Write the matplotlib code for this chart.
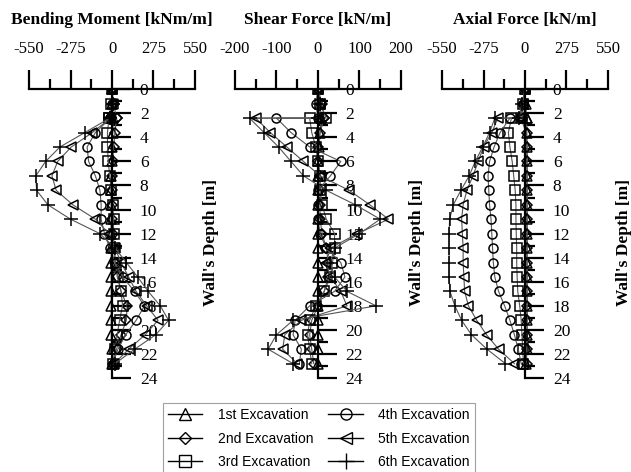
import matplotlib.pyplot as plt
from matplotlib.lines import Line2D
from matplotlib.ticker import MultipleLocator

plt.rcParams["font.family"] = "Liberation Serif"

# depth of the wall nodes [m]; 2.4 m is the first strut level (jump in shear/axial)
DEPTH = [0.0, 1.2, 2.4, 2.4, 3.6, 4.8, 6.0, 7.2, 8.4, 9.6, 10.8,
         12.0, 13.2, 14.4, 15.6, 16.8, 18.0, 19.2, 20.4, 21.6, 22.8]

STAGES = ["1st Excavation", "2nd Excavation", "3rd Excavation",
          "4th Excavation", "5th Excavation", "6th Excavation"]

# bending moment [kNm/m]
bm_1st = [0, 3, 8, 8, 5, 0, -3, -5, -6, -6, -6, -6, -5, -5, -5, -5, -5, -5, -5, -3, 0]
bm_2nd = [0, 10, 30, 30, 20, 10, 5, 0, 0, 0, 0, 5, 10, 20, 35, 60, 100, 95, 60, 30, 5]
bm_3rd = [0, -5, -20, -20, -30, -30, -25, -15, -5, 5, 10, 10, 15, 25, 40, 60, 70, 50, 35, 20, 5]
bm_4th = [0, 0, -10, -10, -110, -165, -155, -110, -80, -72, -72, -50, -15, 20, 70, 150, 215, 160, 90, 40, 5]
bm_5th = [0, 5, -10, -10, -130, -270, -360, -398, -370, -260, -110, -20, 20, 60, 110, 160, 230, 305, 220, 110, 15]
bm_6th = [0, 5, -15, -15, -180, -345, -440, -505, -500, -425, -275, -80, 20, 95, 170, 240, 320, 375, 290, 150, 20]

# shear force [kN/m]
sf_1st = [0, 5, 8, 8, 5, 3, 0, 0, 0, 0, 0, 0, 0, 0, 0, 0, 0, 0, 0, 0, 0]
sf_2nd = [0, 10, 15, 15, 5, 0, 0, 5, 5, 5, 5, 10, 20, 25, 25, 15, 0, -15, -20, -15, -10]
sf_3rd = [0, 5, 20, -20, -15, -5, 0, 5, 5, 10, 20, 40, 40, 35, 30, 15, -5, -20, -25, -20, -15]
sf_4th = [0, -5, 0, -100, -65, -20, 55, 30, 0, 0, 0, 5, 20, 55, 65, 40, -20, -55, -60, -40, -45]
sf_5th = [0, 5, 0, -150, -115, -75, -35, 5, 75, 125, 170, 95, 30, 20, 30, 55, 70, -40, -80, -85, -50]
sf_6th = [0, 5, 0, -165, -130, -95, -65, -35, 20, 90, 150, 100, 40, 30, 40, 70, 140, -60, -100, -120, -60]

# axial force [kN/m]
af_1st = [0, 5, 10, 10, 12, 12, 12, 12, 12, 12, 12, 12, 12, 12, 12, 12, 12, 12, 12, 10, 8]
af_2nd = [0, -15, -30, -30, 10, 15, 15, 15, 15, 15, 15, 15, 15, 15, 15, 15, 15, 15, 15, 12, 10]
af_3rd = [0, -10, -20, -90, -110, -100, -85, -75, -65, -60, -60, -58, -55, -55, -52, -48, -35, -25, -20, -15, -10]
af_4th = [0, -10, -20, -100, -165, -205, -235, -245, -240, -235, -225, -220, -215, -210, -200, -175, -135, -100, -70, -45, -25]
af_5th = [0, -15, -30, -180, -220, -275, -310, -345, -385, -410, -420, -415, -410, -410, -405, -400, -375, -320, -255, -175, -70]
af_6th = [0, -20, -40, -200, -235, -280, -330, -370, -425, -475, -500, -503, -503, -503, -503, -497, -465, -420, -355, -252, -130]

MARKERS = ["^", "D", "s", "o", "<", "+"]
MSIZE = [6.5, 5, 6.5, 6.5, 6.5, 9.5]

panels = [
    ("Bending Moment [kNm/m]", 550, [bm_1st, bm_2nd, bm_3rd, bm_4th, bm_5th, bm_6th], 0.046),
    ("Shear Force [kN/m]", 200, [sf_1st, sf_2nd, sf_3rd, sf_4th, sf_5th, sf_6th], 0.3724),
    ("Axial Force [kN/m]", 550, [af_1st, af_2nd, af_3rd, af_4th, af_5th, af_6th], 0.7005),
]

fig = plt.figure(figsize=(6.31, 4.72), dpi=100)

for title, lim, series, left in panels:
    ax = fig.add_axes([left, 0.199, 0.263, 0.612])
    for vals, mk, ms in zip(series, MARKERS, MSIZE):
        ax.plot(vals, DEPTH, color="#555555", lw=0.8, marker=mk, ms=ms,
                mfc="none", mec="black", mew=1.1)
    ax.set_xlim(-lim, lim)
    ax.set_ylim(24, 0)
    ax.patch.set_visible(False)
    ax.spines["left"].set_visible(False)
    ax.spines["bottom"].set_visible(False)
    ax.spines["right"].set_position(("data", 0))
    ax.spines["right"].set_linewidth(1.6)
    ax.spines["top"].set_linewidth(1.6)
    ax.xaxis.tick_top()
    ax.yaxis.tick_right()
    ax.xaxis.set_major_locator(MultipleLocator(lim / 2))
    ax.xaxis.set_minor_locator(MultipleLocator(lim / 4))
    ax.yaxis.set_major_locator(MultipleLocator(2))
    ax.yaxis.set_minor_locator(MultipleLocator(1))
    ax.tick_params(axis="x", which="major", direction="out", length=14, width=1.6,
                   pad=9, labelsize=12)
    ax.tick_params(axis="x", which="minor", direction="out", length=7, width=1.6)
    ax.tick_params(axis="y", which="major", direction="out", length=14, width=1.6,
                   pad=6, labelsize=12.5)
    ax.tick_params(axis="y", which="minor", direction="out", length=7, width=1.6)
    ax.set_xticklabels([str(int(v)) for v in ax.get_xticks()])
    cx = left + 0.263 / 2
    fig.text(cx, 0.957, title, ha="center", va="center", fontsize=12.5,
             fontweight="bold")
    fig.text(left + 0.263 + 0.025, 0.487, "Wall's Depth [m]", rotation=90,
             ha="center", va="center", fontsize=12.5, fontweight="bold")

handles = [Line2D([], [], color="black", lw=1.0, marker=mk, ms=ms + 1.5,
                  mfc="none", mec="black", mew=1.0)
           for mk, ms in zip(MARKERS, MSIZE)]
leg = fig.legend(handles, STAGES, ncol=2, loc="lower left",
                 bbox_to_anchor=(0.258, -0.004),
                 prop={"family": "Liberation Sans", "size": 10},
                 frameon=True, fancybox=False, edgecolor="#888888",
                 handlelength=2.5, handletextpad=1.1, columnspacing=1.1,
                 labelspacing=0.68, borderpad=0.35, borderaxespad=0)
leg.get_frame().set_linewidth(0.8)

fig.savefig("out.png", dpi=100)
